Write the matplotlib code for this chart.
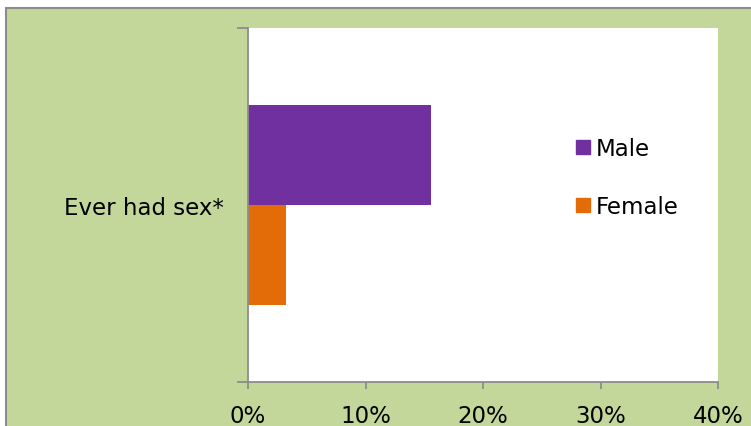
import matplotlib
matplotlib.use("Agg")
import matplotlib.pyplot as plt
from matplotlib.patches import Rectangle
from matplotlib.lines import Line2D
from matplotlib.ticker import FuncFormatter, FixedLocator

categories = ["Ever had sex*"]
series_names = ["Male", "Female"]
male_values = [15.6]
female_values = [3.25]
colors = ["#7030A0", "#E36C09"]
xticks = [0, 10, 20, 30, 40]

W, H = 751, 427
FS = 16.5
fig = plt.figure(figsize=(W / 100, H / 100), dpi=100)
fig.patch.set_facecolor("white")

# outer green chart area with gray border
bg = Rectangle((6 / W, -0.1), 1.2, (H - 9) / H + 0.1, transform=fig.transFigure,
               facecolor="#C4D79B", edgecolor="#8C8C8C", linewidth=1.5, zorder=-10)
fig.patches.append(bg)

ax = fig.add_axes([248 / W, (H - 383) / H, 470 / W, 354 / H])
ax.set_zorder(1)
ax.set_facecolor("white")

bar_h = 0.2825
offset = 0.1425
y0 = 0
ax.barh([y0 + offset], male_values, height=bar_h, color=colors[0], label=series_names[0])
ax.barh([y0 - offset], female_values, height=bar_h, color=colors[1], label=series_names[1])

ax.set_xlim(0, 40)
ax.set_ylim(-0.5, 0.5)
ax.set_xticks(xticks)
ax.xaxis.set_major_formatter(FuncFormatter(lambda v, p: f"{int(v)}%"))
ax.set_yticks([0])
ax.set_yticklabels(categories)
ax.yaxis.set_minor_locator(FixedLocator([-0.5, 0.5]))

for s in ["top", "right"]:
    ax.spines[s].set_visible(False)
for s in ["left", "bottom"]:
    ax.spines[s].set_color("#8C8C8C")
    ax.spines[s].set_linewidth(1.3)

ax.tick_params(axis="x", which="major", length=5, width=1.3, color="#8C8C8C",
               labelsize=FS, pad=11, labelcolor="black")
ax.tick_params(axis="y", which="major", length=0, labelsize=FS, pad=17.5)
ax.tick_params(axis="y", which="minor", length=8, width=1.3, color="#8C8C8C")

handles = [Line2D([], [], marker="s", linestyle="none", markersize=10,
                  markerfacecolor=c, markeredgecolor=c) for c in colors]
ax.legend(handles, series_names, loc="center left", bbox_to_anchor=(0.696, 0.578),
          frameon=False, fontsize=FS, labelspacing=1.55, handlelength=0.65,
          handletextpad=0.25, borderpad=0, borderaxespad=0)

fig.savefig("out.png", dpi=100)
